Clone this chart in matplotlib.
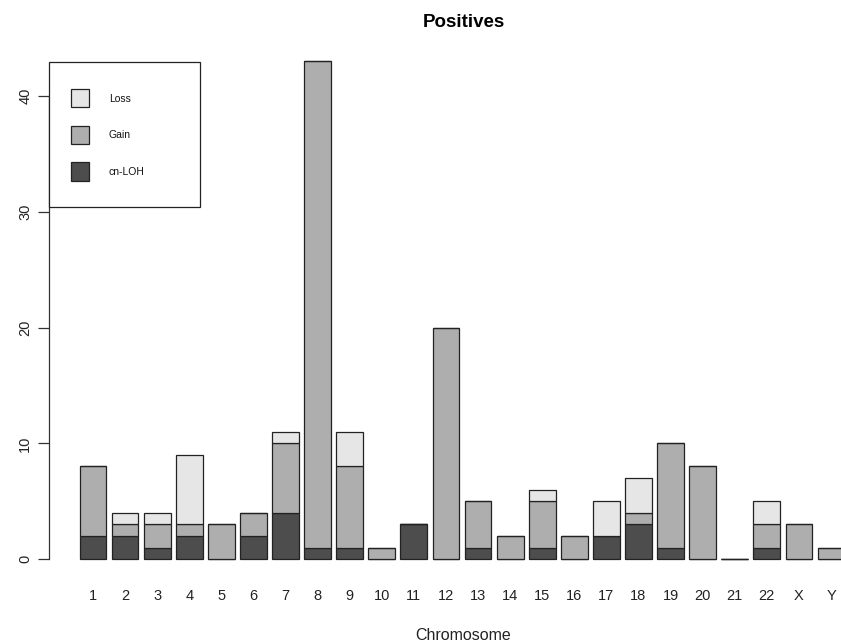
import matplotlib
matplotlib.use("Agg")
import matplotlib.pyplot as plt
import numpy as np
from matplotlib.patches import Rectangle

plt.rcParams['font.family'] = ['Liberation Sans', 'DejaVu Sans']

chromosomes = ['1', '2', '3', '4', '5', '6', '7', '8', '9', '10', '11', '12',
               '13', '14', '15', '16', '17', '18', '19', '20', '21', '22', 'X', 'Y']
cn_loh = [2, 2, 1, 2, 0, 2, 4, 1, 1, 0, 3, 0, 1, 0, 1, 0, 2, 3, 1, 0, 0, 1, 0, 0]
gain   = [6, 1, 2, 1, 3, 2, 6, 42, 7, 1, 0, 20, 4, 2, 4, 2, 0, 1, 9, 8, 0, 2, 3, 1]
loss   = [0, 1, 1, 6, 0, 0, 1, 0, 3, 0, 0, 0, 0, 0, 1, 0, 3, 3, 0, 0, 0, 2, 0, 0]
legend_labels = ['Loss', 'Gain', 'cn-LOH']

col_loh = '#4D4D4D'
col_gain = '#AEAEAE'
col_loss = '#E6E6E6'
edge = '#222222'

fig = plt.figure(figsize=(8.41, 6.42), dpi=100)
W, H = 841, 642
left_px, right_px, top_px, bot_px = 49, 875, 41.4, 579
ax = fig.add_axes([left_px / W, (H - bot_px) / H, (right_px - left_px) / W, (bot_px - top_px) / H])

n = len(chromosomes)
x = 0.7 + 1.2 * np.arange(n)
lo = np.array(cn_loh)
ga = np.array(gain)
ls = np.array(loss)
kw = dict(width=1.0, edgecolor=edge, linewidth=0.9)
ax.bar(x, lo, color=col_loh, **kw)
ax.bar(x, ga, bottom=lo, color=col_gain, **kw)
ax.bar(x, ls, bottom=lo + ga, color=col_loss, **kw)

total_max = (lo + ga + ls).max()
xr = (x[-1] + 0.5) - (x[0] - 0.5)
ax.set_xlim(x[0] - 0.5 - 0.04 * xr, x[-1] + 0.5 + 0.04 * xr)
ax.set_ylim(-0.04 * total_max, total_max * 1.04)

for s in ['top', 'right', 'bottom']:
    ax.spines[s].set_visible(False)
ax.spines['left'].set_bounds(0, 40)
ax.spines['left'].set_color('#333333')
ax.spines['left'].set_linewidth(0.9)

ax.set_yticks([0, 10, 20, 30, 40])
ax.set_yticklabels(['0', '10', '20', '30', '40'], rotation=90, va='center', fontsize=10.5, color='#222222')
ax.tick_params(axis='y', length=8, width=0.9, color='#333333', pad=4)

ax.set_xticks(x)
ax.set_xticklabels(chromosomes, fontsize=10.5, color='#222222')
ax.tick_params(axis='x', length=0, pad=7)

fig.text(463 / W, 1 - 635 / H, 'Chromosome', fontsize=11.5, color='#222222', ha='center', va='center')
fig.text(464 / W, 1 - 22.5 / H, 'Positives', fontsize=13.5, fontweight='bold', ha='center', va='center')

# legend box (R-style), in figure pixel positions
def fx(px):
    return px / W

def fy(py):
    return 1 - py / H

fig.add_artist(Rectangle((fx(49), fy(207)), fx(200) - fx(49), fy(62) - fy(207),
                         transform=fig.transFigure, facecolor='white', edgecolor='#222222',
                         linewidth=0.9, zorder=5))
leg_cols = [col_loss, col_gain, col_loh]
for i, (lab, c) in enumerate(zip(legend_labels, leg_cols)):
    top = 89 + i * 36.7
    fig.add_artist(Rectangle((fx(70.5), fy(top + 18.3)), fx(89) - fx(70.5), fy(top) - fy(top + 18.3),
                             transform=fig.transFigure, facecolor=c, edgecolor='#222222',
                             linewidth=0.9, zorder=6))
    fig.text(fx(109), fy(top + 9.5), lab, fontsize=7.5, color='#111111', ha='left', va='center', zorder=7)

fig.savefig('out.png', dpi=100)
